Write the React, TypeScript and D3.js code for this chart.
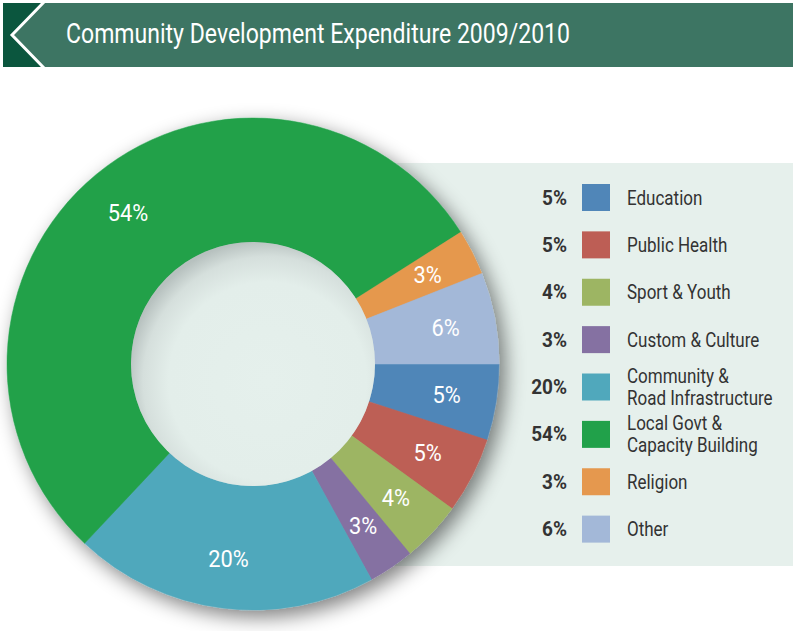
import React from "react";
import * as d3 from "d3";

const categories = [
  "Education",
  "Public Health",
  "Sport & Youth",
  "Custom & Culture",
  "Community & Road Infrastructure",
  "Local Govt & Capacity Building",
  "Religion",
  "Other",
];
const legendLines = [
  ["Education"],
  ["Public Health"],
  ["Sport & Youth"],
  ["Custom & Culture"],
  ["Community &", "Road Infrastructure"],
  ["Local Govt &", "Capacity Building"],
  ["Religion"],
  ["Other"],
];
const values = [5, 5, 4, 3, 20, 54, 3, 6];
const colors = [
  "#5086b8",
  "#bd5e55",
  "#9db563",
  "#8571a2",
  "#50a8bc",
  "#21a14a",
  "#e5984e",
  "#a3b8d8",
];
const title = "Community Development Expenditure 2009/2010";

const W = 793;
const H = 631;
const FONT = "Roboto, sans-serif";

export default function App() {
  const cx = 253;
  const cy = 364;
  const R = 246;
  const r = 122;

  const data = categories.map((c, i) => ({ c, v: values[i], color: colors[i], lines: legendLines[i] }));
  const pie = d3
    .pie<any>()
    .sort(null)
    .value((d) => d.v)
    .startAngle(Math.PI / 2)
    .endAngle(Math.PI / 2 + 2 * Math.PI);
  const arcs = pie(data);
  const arc = d3.arc<any>().innerRadius(r).outerRadius(R);
  const labelArc = d3.arc<any>().innerRadius(r + 12).outerRadius(R + 12);

  const legendY = d3
    .scaleBand<number>()
    .domain(d3.range(data.length))
    .range([174, 553])
    .paddingInner(0);

  return (
    <svg
      width={W}
      height={H}
      style={{ position: "absolute", left: 0, top: 0, background: "#fff" }}
      fontFamily={FONT}
    >
      <defs>
        <filter id="ds" x="-20%" y="-20%" width="140%" height="140%">
          <feGaussianBlur in="SourceAlpha" stdDeviation="10" />
          <feOffset dx="6" dy="7" result="ob" />
          <feComponentTransfer>
            <feFuncA type="linear" slope="0.5" />
          </feComponentTransfer>
          <feMerge>
            <feMergeNode />
            <feMergeNode in="SourceGraphic" />
          </feMerge>
        </filter>
        <radialGradient id="hole" cx="56%" cy="57%" r="58%">
          <stop offset="0%" stopColor="#e5f0ec" />
          <stop offset="70%" stopColor="#e3eeea" />
          <stop offset="88%" stopColor="#d5dfdc" />
          <stop offset="100%" stopColor="#b7c1bf" />
        </radialGradient>
      </defs>

      {/* Header */}
      <rect x={3} y={3} width={W - 3} height={64} fill="#3d7563" />
      <polygon points="3,3 43,3 12,35 43,67 3,67" fill="#0b563e" />
      <polyline points="44,2 12,35 44,68" fill="none" stroke="#ffffff" strokeWidth={3} />
      <text x={66} y={43} fill="#ffffff" fontSize={28} textLength={504} lengthAdjust="spacingAndGlyphs">
        {title}
      </text>

      {/* Panel */}
      <rect x={250} y={163} width={W - 250} height={403} fill="#e6f0ec" />

      {/* Donut */}
      <g transform={`translate(${cx},${cy})`}>
        <g filter="url(#ds)">
          {arcs.map((a, i) => (
            <path key={i} d={arc(a) as string} fill={a.data.color} stroke={a.data.color} strokeWidth={0.5} />
          ))}
        </g>
        <circle r={r} fill="url(#hole)" />
        {arcs.map((a, i) => {
          const [x, y] = labelArc.centroid(a);
          return (
            <text
              key={i}
              transform={`translate(${x},${y}) scale(0.95,1)`}
              dy="0.36em"
              textAnchor="middle"
              fill="#ffffff"
              fontSize={23}
            >
              {a.data.v}%
            </text>
          );
        })}
      </g>

      {/* Legend */}
      {data.map((d, i) => {
        const top = (legendY(i) as number) + 10;
        const mid = top + 13.5;
        return (
          <g key={i}>
            <text
              transform={`translate(567,${mid + 7}) scale(0.95,1)`}
              textAnchor="end"
              fill="#333333"
              fontSize={20}
              fontWeight="bold"
            >
              {d.v}%
            </text>
            <rect x={582} y={top} width={28} height={27} fill={d.color} />
            {d.lines.length === 1 ? (
              <text transform={`translate(627,${mid + 7}) scale(0.85,1)`} fill="#333333" fontSize={20}>
                {d.lines[0]}
              </text>
            ) : (
              d.lines.map((ln, k) => (
                <text
                  key={k}
                  transform={`translate(627,${mid - 4 + k * 22}) scale(0.85,1)`}
                  fill="#333333"
                  fontSize={20}
                >
                  {ln}
                </text>
              ))
            )}
          </g>
        );
      })}
    </svg>
  );
}
